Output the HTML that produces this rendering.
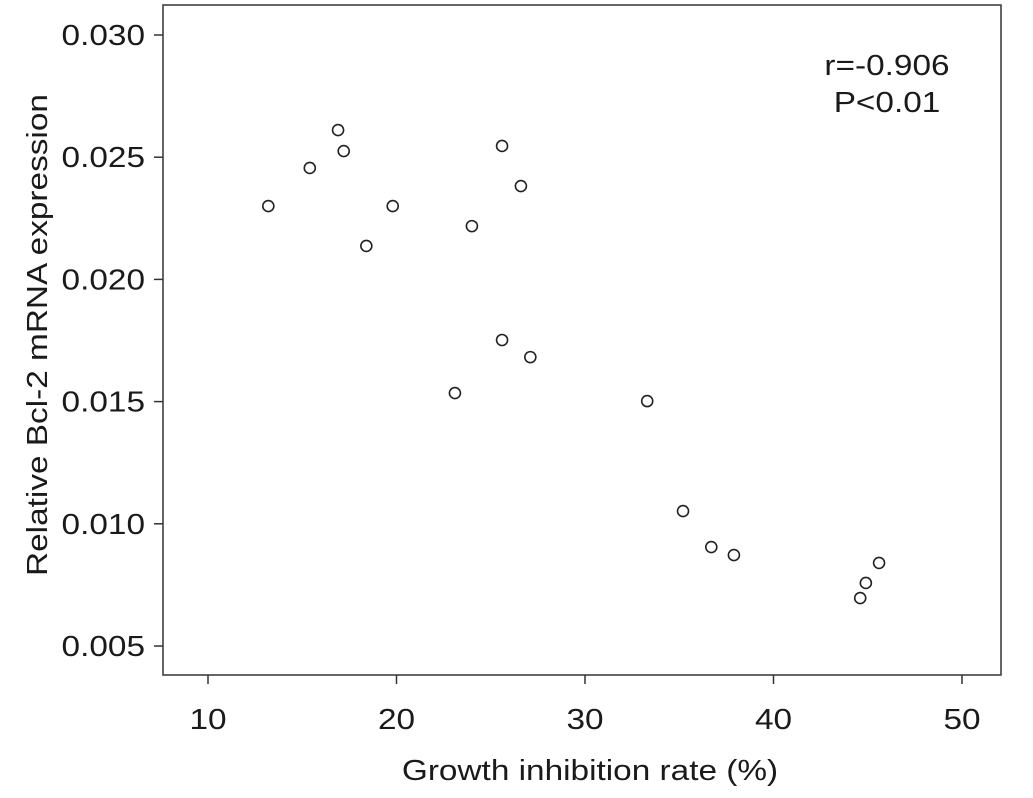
<!DOCTYPE html>
<html><head><meta charset="utf-8"><style>
html,body{margin:0;padding:0;background:#fff;}
svg text{font-family:"Liberation Sans",Arial,sans-serif;fill:#1a1a1a;}
</style></head><body>
<svg id="chart" width="1033" height="793" xmlns="http://www.w3.org/2000/svg">
<rect x="163" y="5" width="838" height="670" fill="none" stroke="#333" stroke-width="1.5"/>
<g id="xt"></g>
<g id="yt"></g>
<g id="pts"></g>
<text transform="translate(590,780) scale(1.15,1)" font-size="29" text-anchor="middle">Growth inhibition rate (%)</text>
<text transform="translate(47,335) rotate(-90) scale(1.15,1)" font-size="29" text-anchor="middle">Relative Bcl-2 mRNA expression</text>
<text transform="translate(887,75) scale(1.15,1)" font-size="29" text-anchor="middle">r=-0.906</text>
<text transform="translate(887,112) scale(1.15,1)" font-size="29" text-anchor="middle">P&lt;0.01</text>
</svg>
<script>
const xTicks=[10,20,30,40,50];
const yTicks=[0.005,0.010,0.015,0.020,0.025,0.030];
const xVals=[13.2,15.4,16.9,17.2,18.4,19.8,24.0,25.6,26.6,23.1,25.6,27.1,33.3,35.2,36.7,37.9,44.6,44.9,45.6];
const yVals=[0.0230,0.02456,0.02611,0.02525,0.02137,0.0230,0.02218,0.02546,0.02382,0.01535,0.01752,0.01682,0.01502,0.01052,0.00905,0.00872,0.00696,0.00758,0.00840];
const NS="http://www.w3.org/2000/svg";
function sx(v){return 208+(v-10)*18.85;}
function sy(v){return 35+(0.030-v)*24440;}
function mk(t,a,p){const e=document.createElementNS(NS,t);for(const k in a)e.setAttribute(k,a[k]);p.appendChild(e);return e;}
const xt=document.getElementById('xt'),yt=document.getElementById('yt'),pts=document.getElementById('pts');
xTicks.forEach(v=>{
 const l=mk('line',{x1:sx(v),x2:sx(v),y1:675,y2:684,stroke:'#333','stroke-width':1.5},xt);
 
 
 const t=mk('text',{transform:'translate('+sx(v)+',729) scale(1.15,1)','font-size':29,'text-anchor':'middle'},xt);
 t.textContent=v;
 
 
});
yTicks.forEach(v=>{
 const l=mk('line',{x1:154,x2:163,y1:sy(v),y2:sy(v),stroke:'#333','stroke-width':1.5},yt);
 
 
 const t=mk('text',{transform:'translate(145,'+(sy(v)+10)+') scale(1.15,1)','font-size':29,'text-anchor':'end'},yt);
 t.textContent=v.toFixed(3);
 
 
});
xVals.forEach((v,i)=>{
 const c=mk('circle',{cx:sx(v),cy:sy(yVals[i]),r:5.5,fill:'#fff',stroke:'#222','stroke-width':1.6},pts);
 
 
});
</script>
</body></html>
